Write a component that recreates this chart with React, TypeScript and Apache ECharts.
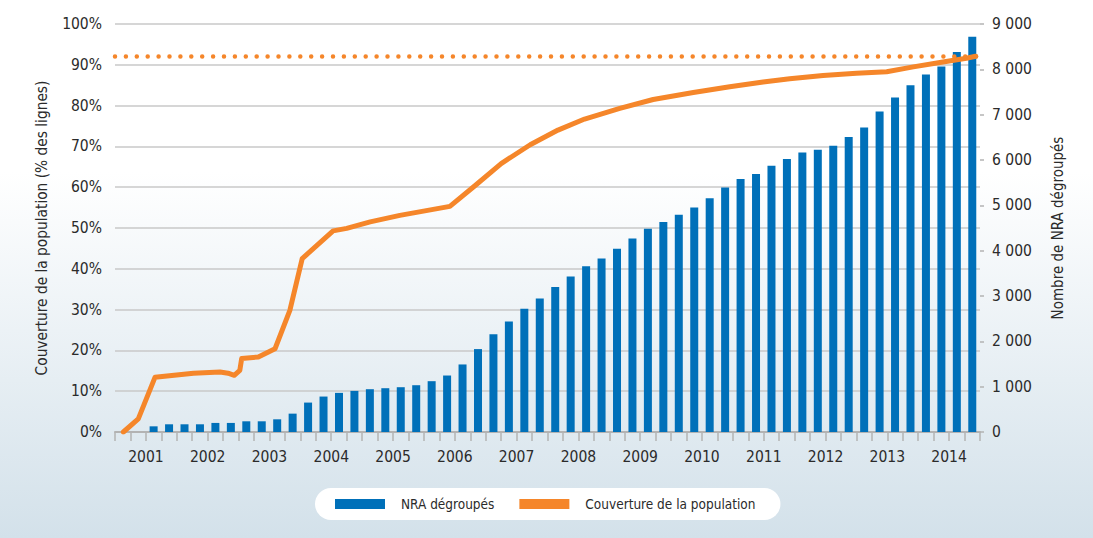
import React, { useEffect, useRef } from "react";
import * as echarts from "echarts";

const years = ["2001", "2002", "2003", "2004", "2005", "2006", "2007", "2008", "2009", "2010", "2011", "2012", "2013", "2014"];
const quarters = years.flatMap((y) => ["T1", "T2", "T3", "T4"].map((q) => `${q} ${y}`));

// Nombre de NRA dégroupés (fin de trimestre)
const nraValues = [
  0, 0, 125, 170, 170, 170, 200, 200, 236, 236,
  280, 405, 649, 782, 863, 907, 944, 966, 988, 1032,
  1121, 1246, 1490, 1829, 2155, 2440, 2718, 2946, 3197, 3430,
  3658, 3828, 4042, 4270, 4484, 4631, 4794, 4950, 5159, 5394,
  5580, 5690, 5874, 6022, 6168, 6228, 6316, 6508, 6715, 7069,
  7378, 7651, 7887, 8064, 8381, 8721,
];

// Couverture de la population (% des lignes), dates en années décimales
const coverageDates = [
  2001.135, 2001.377, 2001.647, 2002.27, 2002.7, 2002.83, 2002.93, 2003.02, 2003.05, 2003.32,
  2003.59, 2003.83, 2004.03, 2004.53, 2004.75, 2005.13, 2005.61, 2006.42, 2006.82, 2007.25,
  2007.72, 2008.17, 2008.6, 2009.17, 2009.71, 2010.36, 2010.95, 2011.49, 2011.92, 2012.46,
  2013.0, 2013.49, 2013.92, 2014.4, 2014.78, 2014.93,
];
const coverageValues = [
  0, 3.2, 13.4, 14.4, 14.7, 14.4, 13.9, 15.1, 18.0, 18.4,
  20.4, 29.8, 42.5, 49.3, 49.9, 51.5, 53.1, 55.3, 60.3, 65.8,
  70.4, 74.0, 76.7, 79.3, 81.5, 83.2, 84.6, 85.8, 86.6, 87.4,
  87.9, 88.3, 89.5, 90.7, 91.6, 92.1,
];
const targetCoverage = 92;

const FONT = "'Liberation Sans Narrow', 'DejaVu Sans Condensed', sans-serif";
const BLUE = "#0070b9";
const ORANGE = "#f5862a";
const TEXT = "#2b2b2b";

export default function App() {
  const ref = useRef<HTMLDivElement>(null);
  useEffect(() => {
    document.body.style.margin = "0";
    const chart = echarts.init(ref.current!, undefined, { renderer: "svg" });
    chart.setOption({
      animation: false,
      backgroundColor: new echarts.graphic.LinearGradient(0, 0, 0, 1, [
        { offset: 0, color: "#ffffff" },
        { offset: 0.32, color: "#ffffff" },
        { offset: 1, color: "#d3e1ea" },
      ]),
      textStyle: { fontFamily: FONT },
      grid: { left: 115, right: 113, top: 24, bottom: 106 },
      legend: {
        data: ["NRA dégroupés", "Couverture de la population"],
        left: 315,
        top: 488,
        icon: "rect",
        itemWidth: 50,
        itemHeight: 10,
        itemGap: 25,
        backgroundColor: "#ffffff",
        borderRadius: 17,
        padding: [9, 25, 9, 20],
        textStyle: { fontFamily: FONT, fontSize: 13.5, color: TEXT, padding: [0, 0, 0, 11] },
      },
      xAxis: [
        {
          type: "category",
          data: quarters,
          boundaryGap: true,
          axisLine: { lineStyle: { color: "#b3b3b3", width: 2 } },
          axisTick: { show: true, interval: 0, length: 9, lineStyle: { color: "#b3b3b3", width: 1.5 } },
          axisLabel: { show: false },
          splitLine: { show: false },
        },
        {
          type: "category",
          data: years,
          boundaryGap: true,
          position: "bottom",
          axisLine: { show: false },
          axisTick: { show: false },
          axisLabel: { show: true, interval: 0, margin: 17, fontFamily: FONT, fontSize: 15.5, color: TEXT },
          splitLine: { show: false },
        },
        {
          type: "value",
          min: 2001,
          max: 2015,
          show: false,
          splitLine: { show: false },
        },
      ],
      yAxis: [
        {
          type: "value",
          min: 0,
          max: 100,
          interval: 10,
          name: "Couverture de la population (% des lignes)",
          nameLocation: "middle",
          nameRotate: 90,
          nameGap: 66,
          nameTextStyle: { fontFamily: FONT, fontSize: 15.3, color: TEXT },
          axisLine: { show: false },
          axisTick: { show: false },
          axisLabel: { formatter: "{value}%", margin: 13, fontFamily: FONT, fontSize: 15.5, color: TEXT },
          splitLine: { lineStyle: { color: "#c8c8c8", width: 1.5 } },
        },
        {
          type: "value",
          min: 0,
          max: 9000,
          interval: 1000,
          position: "right",
          name: "Nombre de NRA dégroupés",
          nameLocation: "middle",
          nameRotate: 90,
          nameGap: 70,
          nameTextStyle: { fontFamily: FONT, fontSize: 15, color: TEXT },
          axisLine: { show: false },
          axisTick: { show: true, length: 4, lineStyle: { color: "#b3b3b3", width: 1.5 } },
          axisLabel: {
            margin: 12,
            fontFamily: FONT,
            fontSize: 15.5,
            color: TEXT,
            formatter: (v: number) => String(v).replace(/\B(?=(\d{3})+(?!\d))/g, " "),
          },
          splitLine: { show: false },
        },
      ],
      series: [
        {
          name: "NRA dégroupés",
          type: "bar",
          xAxisIndex: 0,
          yAxisIndex: 1,
          data: nraValues.map((v) => (v === 0 ? null : v)),
          barWidth: 8,
          itemStyle: { color: BLUE },
          z: 2,
        },
        {
          name: "Couverture de la population",
          type: "line",
          xAxisIndex: 2,
          yAxisIndex: 0,
          data: coverageDates.map((d, i) => [d, coverageValues[i]]),
          symbol: "none",
          lineStyle: { color: ORANGE, width: 5, join: "round", cap: "round" },
          itemStyle: { color: ORANGE },
          z: 3,
          markLine: {
            silent: true,
            symbol: "none",
            label: { show: false },
            lineStyle: { color: ORANGE, width: 4.5, type: [0, 10.9], cap: "round" },
            data: [{ yAxis: targetCoverage }],
          },
        },
      ],
    });
    return () => chart.dispose();
  }, []);
  return <div ref={ref} style={{ width: 1093, height: 538 }} />;
}
